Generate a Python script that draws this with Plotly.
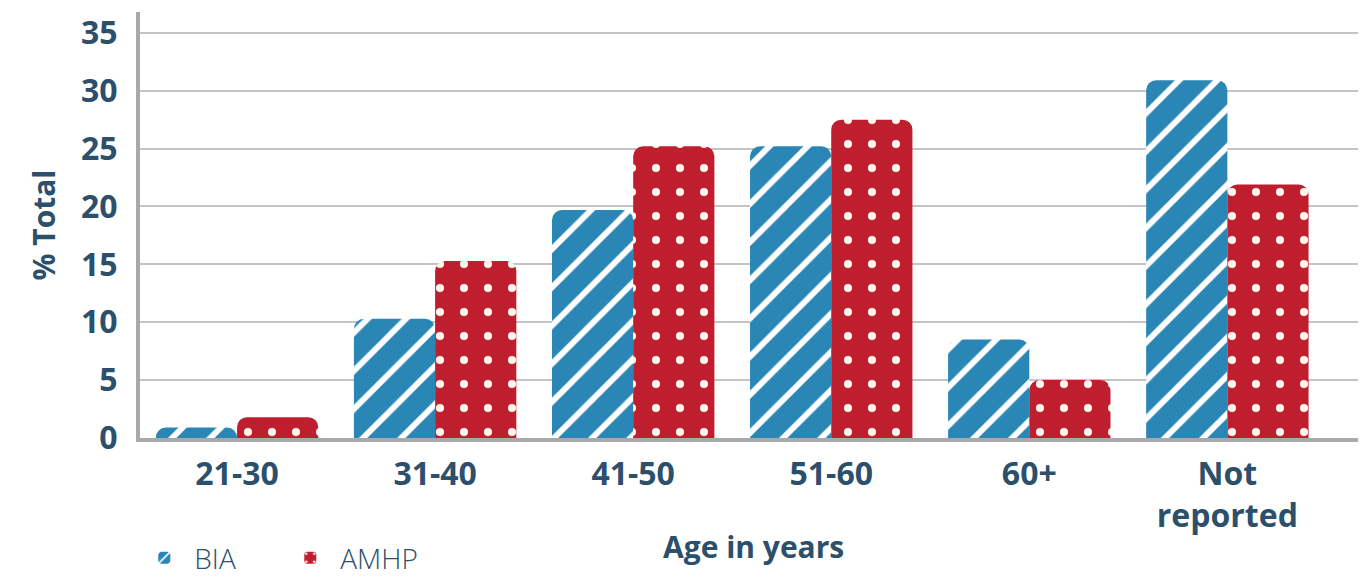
import plotly.graph_objects as go

age_groups = ["21-30", "31-40", "41-50", "51-60", "60+", "Not<br>reported"]
bia_pct = [0.9, 10.3, 19.7, 25.2, 8.5, 30.9]
amhp_pct = [1.8, 15.3, 25.2, 27.5, 5.0, 21.9]

blue = "#2a86b5"
red = "#be1e2d"
text_col = "#2c4f6b"
font_family = "'Open Sans', Lato, sans-serif"

fig = go.Figure()

fig.add_trace(go.Bar(
    x=age_groups, y=bia_pct, name="BIA",
    marker=dict(color=blue, cornerradius=10, line=dict(width=0),
                pattern=dict(shape="/", fgcolor="white", bgcolor=blue, fgopacity=1,
                             size=27, solidity=0.22, fillmode="overlay")),
))
fig.add_trace(go.Bar(
    x=age_groups, y=amhp_pct, name="AMHP",
    marker=dict(color=red, cornerradius=10, line=dict(width=0),
                pattern=dict(shape=".", fgcolor="#fdf3e8", bgcolor=red, fgopacity=1,
                             size=24, solidity=0.09, fillmode="overlay")),
))

# page body adds 8px around the figure, so size and margins are trimmed for it
fig.update_layout(
    width=1358, height=570,
    margin=dict(l=132, r=0, t=4, b=140),
    paper_bgcolor="white", plot_bgcolor="white",
    barmode="group", bargap=0.18, bargroupgap=0,
    font=dict(family=font_family, color=text_col),
    showlegend=True,
    legend=dict(orientation="h", xref="container", yref="container",
                x=0.093, xanchor="left", y=0.035, yanchor="middle",
                font=dict(size=28, color=text_col, weight=300),
                itemwidth=50, entrywidth=81, entrywidthmode="pixels"),
)

# x-axis title as an annotation so it sits below the two-line tick label
fig.add_annotation(
    text="Age in years", xref="paper", yref="paper", x=0.5, y=0,
    yshift=-108, yanchor="middle", showarrow=False,
    font=dict(size=30, weight="bold", color=text_col),
)

fig.update_xaxes(
    range=[-0.49, 5.70], automargin=False,
    showline=True, linecolor="#a7a9ac", linewidth=4,
    showgrid=False, ticks="", ticklabelstandoff=5,
    tickfont=dict(size=32, weight="bold", color=text_col),
)
fig.update_yaxes(
    range=[0, 36.8], dtick=5, tick0=0, automargin=True,
    showline=True, linecolor="#a7a9ac", linewidth=4,
    showgrid=True, gridcolor="#c4c4c6", gridwidth=2,
    zeroline=False, ticks="", ticklabelstandoff=12,
    tickfont=dict(size=32, weight="bold", color=text_col),
    title=dict(text="% Total", font=dict(size=30, weight="bold", color=text_col),
               standoff=18),
)

fig.write_html("out.html")
